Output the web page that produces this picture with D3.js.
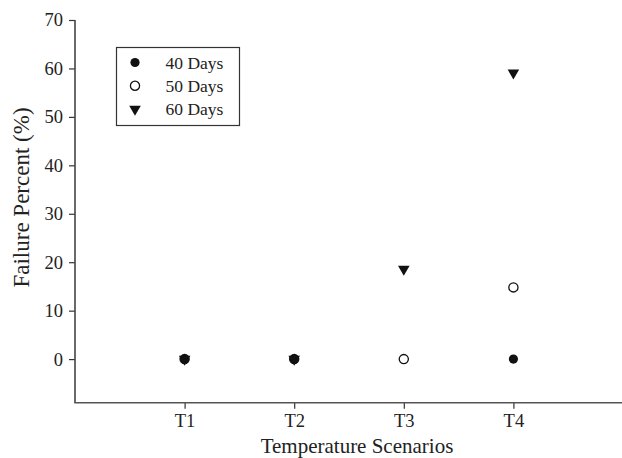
<!DOCTYPE html>
<html>
<head>
<meta charset="utf-8">
<script src="https://cdn.jsdelivr.net/npm/d3@7"></script>
<style>
  body { margin: 0; background: #fff; }
  text { font-family: "Liberation Serif", "Times New Roman", serif; fill: #222; }
</style>
</head>
<body>
<div id="chart"></div>
<script>
// scenarios on the x axis
const scenarios = ["T1", "T2", "T3", "T4"];
// failure percent per series (null = not plotted)
const days40 = [0, 0, null, 0];
const days50 = [0, 0, 0, 14.8];
const days60 = [0, 0, 18.6, 59.1];
const seriesNames = ["40 Days", "50 Days", "60 Days"];
const yTicks = [0, 10, 20, 30, 40, 50, 60, 70];

const width = 622, height = 458;
const margin = { top: 20, right: 0, bottom: 55, left: 75 };

const svg = d3.select("#chart").append("svg")
    .attr("width", width)
    .attr("height", height);

const x = d3.scaleLinear()
    .domain([0, 5])
    .range([margin.left, 623]);

const y = d3.scaleLinear()
    .domain([-9, 70])
    .range([402.7, margin.top]);

// axes (ticks from d3, lines drawn below)
const xAxis = d3.axisBottom(x)
    .tickValues([1, 2, 3, 4])
    .tickFormat((d) => scenarios[d - 1])
    .tickSize(6)
    .tickPadding(5);

const yAxis = d3.axisLeft(y)
    .tickValues(yTicks)
    .tickSize(6)
    .tickPadding(6);

const gx = svg.append("g")
    .attr("transform", `translate(0,${y(-9)})`)
    .call(xAxis);

const gy = svg.append("g")
    .attr("transform", `translate(${margin.left},0)`)
    .call(yAxis);

[gx, gy].forEach((g) => {
    g.select(".domain").remove();
    g.selectAll(".tick line").attr("stroke", "#333").attr("stroke-width", 1.2);
    g.selectAll(".tick text")
        .attr("fill", "#222")
        .style("font-family", "'Liberation Serif', serif")
        .style("font-size", "18.5px");
});

// axis lines
svg.append("line")
    .attr("x1", x(0)).attr("x2", x(0))
    .attr("y1", y(70)).attr("y2", y(-9))
    .attr("stroke", "#444").attr("stroke-width", 1.6);
svg.append("line")
    .attr("x1", x(0) - 0.8).attr("x2", width)
    .attr("y1", y(-9)).attr("y2", y(-9))
    .attr("stroke", "#555").attr("stroke-width", 1.6);

// axis titles
svg.append("text")
    .attr("x", 357)
    .attr("y", 453)
    .attr("text-anchor", "middle")
    .style("font-size", "21px")
    .text("Temperature Scenarios");

svg.append("text")
    .attr("transform", `translate(29,197.5) rotate(-90)`)
    .attr("text-anchor", "middle")
    .style("font-size", "23px")
    .text("Failure Percent (%)");

// symbols
const circleSym = d3.symbol().type(d3.symbolCircle).size(66);
const triangleSym = d3.symbol().type(d3.symbolTriangle).size(58);

function drawSeries(values, kind) {
    const pts = values
        .map((v, i) => ({ x: i + 1, v: v }))
        .filter((d) => d.v !== null);
    const sel = svg.append("g").selectAll("path")
        .data(pts)
        .join("path")
        .attr("transform", (d) =>
            kind === "tri"
                ? `translate(${x(d.x)},${y(d.v)}) rotate(180)`
                : `translate(${x(d.x)},${y(d.v)})`);
    if (kind === "filled") {
        sel.attr("d", circleSym).attr("fill", "#111");
    } else if (kind === "open") {
        sel.attr("d", circleSym).attr("fill", "none")
            .attr("stroke", "#111").attr("stroke-width", 1.3);
    } else {
        sel.attr("d", triangleSym).attr("fill", "#111");
    }
}

drawSeries(days40, "filled");
drawSeries(days50, "open");
drawSeries(days60, "tri");

// legend
const legend = svg.append("g");
legend.append("rect")
    .attr("x", 116.5)
    .attr("y", 47.5)
    .attr("width", 123)
    .attr("height", 78)
    .attr("fill", "#fff")
    .attr("stroke", "#333")
    .attr("stroke-width", 1.2);

const kinds = ["filled", "open", "tri"];
seriesNames.forEach((name, i) => {
    const cy = 62.5 + i * 23.3;
    const k = kinds[i];
    const p = legend.append("path")
        .attr("transform", k === "tri"
            ? `translate(135,${cy}) rotate(180)`
            : `translate(135,${cy})`);
    if (k === "filled") p.attr("d", circleSym).attr("fill", "#111");
    else if (k === "open") p.attr("d", circleSym).attr("fill", "none")
        .attr("stroke", "#111").attr("stroke-width", 1.3);
    else p.attr("d", triangleSym).attr("fill", "#111");

    legend.append("text")
        .attr("x", 165.5)
        .attr("y", cy + 6)
        .style("font-size", "17.5px")
        .text(name);
});
</script>
</body>
</html>
